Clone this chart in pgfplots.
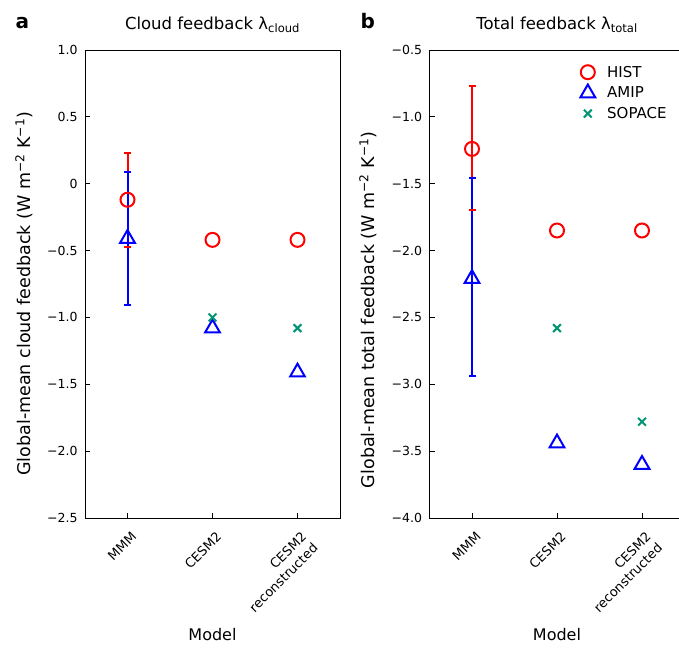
\documentclass[border=0pt]{standalone}
\usepackage{pgfplots}
\pgfplotsset{compat=1.18}
\usepackage{fontspec}
\setmainfont{DejaVu Sans}
\definecolor{sopgreen}{RGB}{0,150,115}

\pgfplotsset{
  panel/.style={
    scale only axis, width=255pt, height=468pt,
    xmin=-0.5, xmax=2.5,
    xtick={0,1,2}, xticklabels={MMM,CESM2,{CESM2\\reconstructed}},
    xtick pos=bottom, ytick pos=left, tick align=inside,
    major tick length=5pt,
    tick style={black, line width=0.8pt},
    axis line style={black, line width=0.8pt},
    xticklabel style={font=\fontsize{13}{16}\selectfont, xshift=3pt, yshift=-8pt,
      rotate=45, anchor=north east, align=right},
    yticklabel style={font=\fontsize{12.5}{14}\selectfont, xshift=-4pt},
    xlabel={Model},
    xlabel style={font=\fontsize{16}{19}\selectfont, at={(axis description cs:0.5,0)}, anchor=base, yshift=-122pt},
    title style={font=\fontsize{16.5}{19}\selectfont, at={(axis description cs:0.5,1)}, anchor=base, yshift=14pt},
    clip=false,
  },
  errb/.style={forget plot, #1, line width=2pt, mark=-, mark size=3.5pt,
    mark options={solid, line width=2pt}},
  hist/.style={only marks, red, mark=o, mark size=7pt, mark options={line width=2pt}},
  amip/.style={only marks, blue, mark=triangle, mark size=8.5pt, mark options={line width=2pt}},
  sopace/.style={only marks, sopgreen, mark=x, mark size=5.5pt, mark options={line width=2pt}},
}

\begin{document}
\begin{tikzpicture}
% panel a: cloud feedback
\begin{axis}[panel, at={(85pt,129pt)}, anchor=south west,
    ymin=-2.5, ymax=1.0,
    ytick={-2.5,-2,-1.5,-1,-0.5,0,0.5,1},
    yticklabels={−2.5,−2.0,−1.5,−1.0,−0.5,0,0.5,1.0},
    title={Cloud feedback λ\textsubscript{cloud}},
    ylabel={Global-mean cloud feedback (W m\textsuperscript{−2} K\textsuperscript{−1})},
    ylabel style={font=\fontsize{17.5}{21}\selectfont, at={(axis description cs:-0.239,0.479)}, anchor=center}]
\addplot[errb=red] coordinates {(0,-0.47) (0,0.23)};
\addplot[hist] coordinates {(0,-0.12) (1,-0.42) (2,-0.42)};
\addplot[errb=blue] coordinates {(0,-0.91) (0,0.09)};
\addplot[amip] coordinates {(0,-0.41) (1,-1.08) (2,-1.41)};
\addplot[sopace] coordinates {(1,-1.00) (2,-1.08)};
\end{axis}

% panel b: total feedback
\begin{axis}[panel, at={(429.5pt,129pt)}, anchor=south west,
    ymin=-4.0, ymax=-0.5,
    ytick={-4,-3.5,-3,-2.5,-2,-1.5,-1,-0.5},
    yticklabels={−4.0,−3.5,−3.0,−2.5,−2.0,−1.5,−1.0,−0.5},
    title={Total feedback λ\textsubscript{total}},
    ylabel={Global-mean total feedback (W m\textsuperscript{−2} K\textsuperscript{−1})},
    ylabel style={font=\fontsize{17.5}{21}\selectfont, at={(axis description cs:-0.241,0.445)}, anchor=center},
    legend style={draw=none, fill=none, at={(0.95,0.975)}, anchor=north east,
      font=\fontsize{15}{18}\selectfont, row sep=4pt},
    legend cell align=left]
\addplot[errb=red] coordinates {(0,-1.70) (0,-0.77)};
\addplot[hist] coordinates {(0,-1.24) (1,-1.85) (2,-1.85)};
\addplot[errb=blue] coordinates {(0,-2.935) (0,-1.46)};
\addplot[amip] coordinates {(0,-2.21) (1,-3.44) (2,-3.60)};
\addplot[sopace] coordinates {(1,-2.58) (2,-3.28)};
\legend{\hspace{10pt}HIST,\hspace{10pt}AMIP,\hspace{10pt}SOPACE}
\end{axis}

\node[anchor=base west, font=\bfseries\fontsize{20}{24}\selectfont] at (12pt,618pt) {a};
\node[anchor=base west, font=\bfseries\fontsize{20}{24}\selectfont] at (357pt,618pt) {b};

\pgfresetboundingbox
\useasboundingbox (0,0) rectangle (679pt,647pt);
\end{tikzpicture}
\end{document}
